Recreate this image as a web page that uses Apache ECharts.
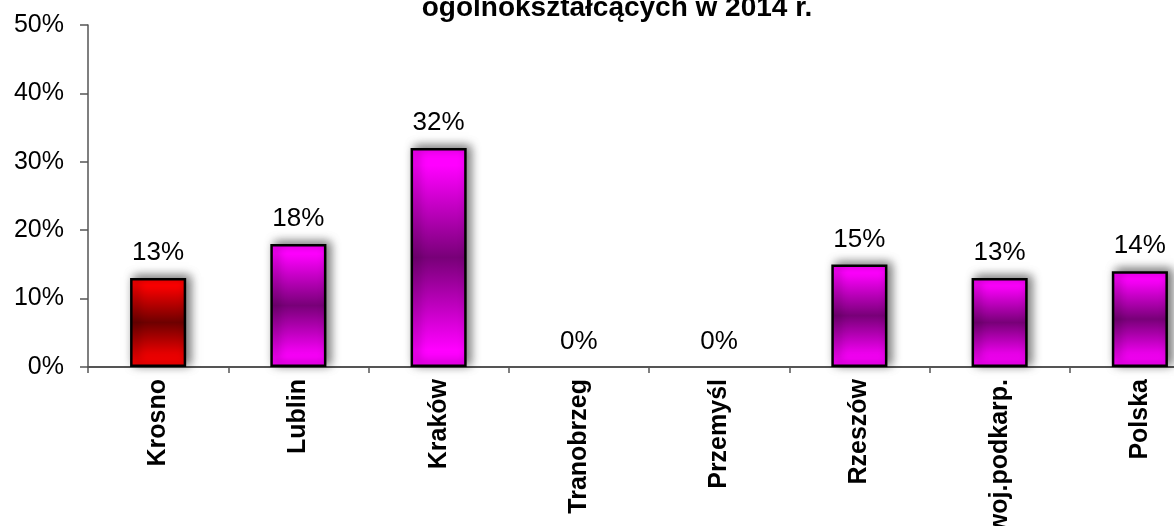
<!DOCTYPE html>
<html>
<head>
<meta charset="utf-8">
<script src="https://cdn.jsdelivr.net/npm/echarts@6/dist/echarts.min.js"></script>
<style>
  html, body { margin: 0; padding: 0; background: #fff; }
  #chart { width: 1174px; height: 526px; }
</style>
</head>
<body>
<div id="chart"></div>
<script>
// dane
var categories = ['Krosno', 'Lublin', 'Kraków', 'Tranobrzeg', 'Przemyśl', 'Rzeszów', 'woj.podkarp.', 'Polska'];
var values = [13, 18, 32, 0, 0, 15, 13, 14];
var yTicks = [0, 10, 20, 30, 40, 50];
var titleText = 'ogólnokształcących w 2014 r.';

function grad(edge, mid) {
  return new echarts.graphic.LinearGradient(0, 0, 0, 1, [
    { offset: 0, color: edge },
    { offset: 0.08, color: edge },
    { offset: 0.5, color: mid },
    { offset: 0.92, color: edge },
    { offset: 1, color: edge }
  ]);
}

var seriesData = values.map(function (v, i) {
  var item = {
    value: v,
    itemStyle: {
      color: i === 0 ? grad('#ff0000', '#6e0000') : grad('#ff00ff', '#780078')
    }
  };
  if (v === 0) {
    item.itemStyle.borderWidth = 0;
    item.itemStyle.shadowBlur = 0;
    item.itemStyle.shadowColor = 'transparent';
  }
  return item;
});

var chart = echarts.init(document.getElementById('chart'), null, { renderer: 'canvas' });
chart.setOption({
  backgroundColor: '#ffffff',
  animation: false,
  title: {
    text: titleText,
    left: 612,
    textAlign: 'center',
    top: -11,
    textStyle: { fontFamily: 'Liberation Sans, Arial', fontSize: 28, fontWeight: 'bold', color: '#000' }
  },
  grid: { left: 88, top: 25, right: -36, bottom: 159, outerBoundsMode: 'none', containLabel: false },
  xAxis: {
    type: 'category',
    data: categories,
    axisLine: { lineStyle: { color: '#555', width: 2 } },
    axisTick: { show: true, length: 6, lineStyle: { color: '#555', width: 1.5 } },
    axisLabel: {
      rotate: 90,
      margin: 12,
      fontFamily: 'Liberation Sans, Arial',
      fontSize: 25,
      fontWeight: 'bold',
      color: '#000'
    }
  },
  yAxis: {
    type: 'value',
    min: yTicks[0],
    max: yTicks[yTicks.length - 1],
    interval: 10,
    splitLine: { show: false },
    axisLine: { show: true, lineStyle: { color: '#555', width: 1.5 } },
    axisTick: { show: true, length: 8, lineStyle: { color: '#555', width: 1.5 } },
    axisLabel: {
      formatter: '{value}%',
      margin: 24,
      fontFamily: 'Liberation Sans, Arial',
      fontSize: 25,
      color: '#000'
    }
  },
  series: [{
    type: 'bar',
    data: seriesData,
    barWidth: '40%',
    itemStyle: {
      borderColor: '#000',
      borderWidth: 2.5,
      shadowBlur: 10,
      shadowColor: 'rgba(0,0,0,0.55)',
      shadowOffsetX: 4,
      shadowOffsetY: -2
    },
    label: {
      show: true,
      position: 'top',
      distance: 12,
      formatter: '{c}%',
      fontFamily: 'Liberation Sans, Arial',
      fontSize: 26,
      color: '#000'
    }
  }]
});
</script>
</body>
</html>
